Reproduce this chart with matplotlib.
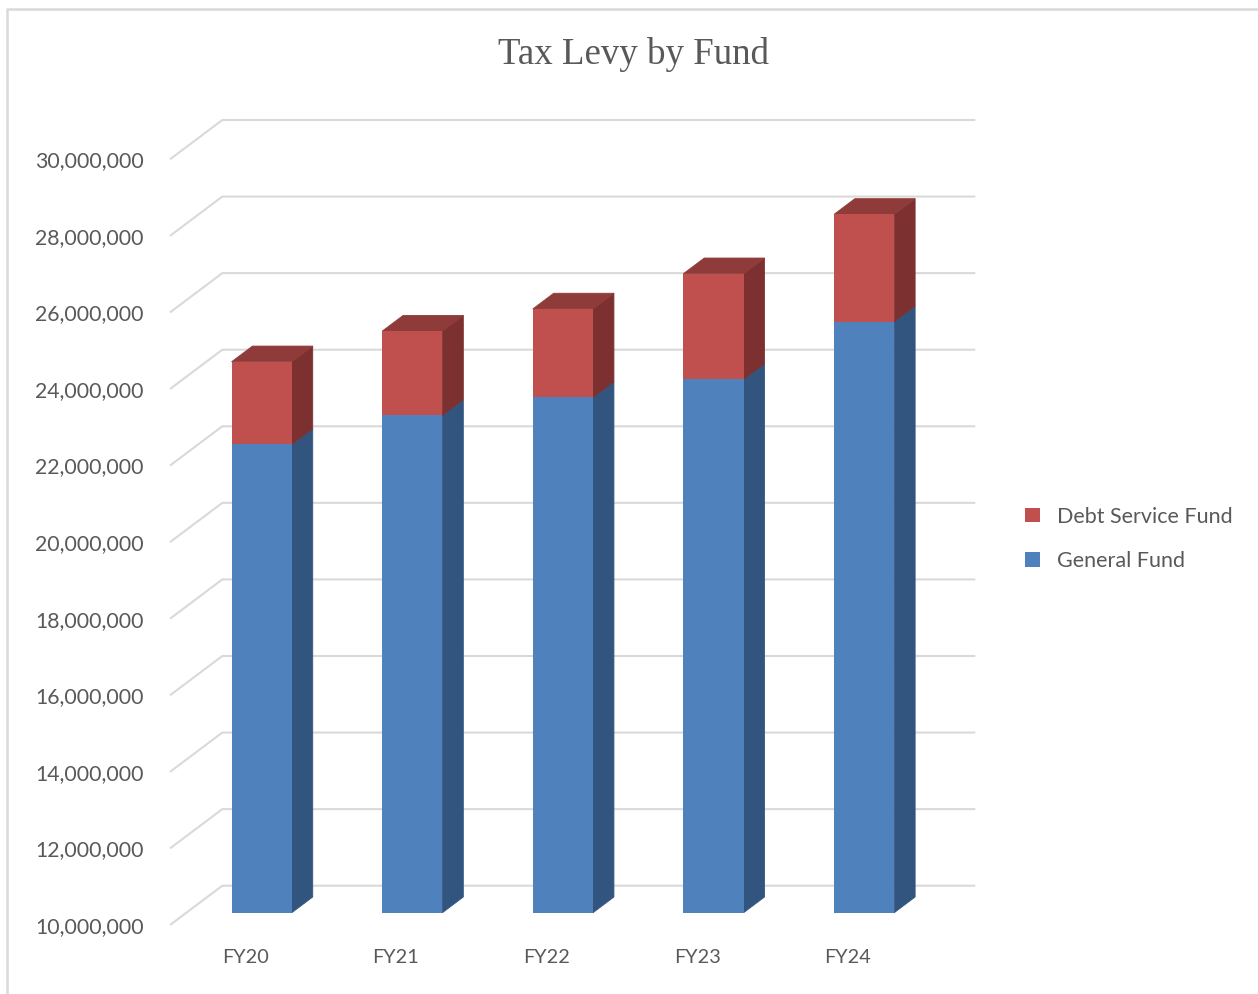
import numpy as np
import matplotlib
matplotlib.use("Agg")
import matplotlib.pyplot as plt
from matplotlib.patches import Polygon, Patch
from matplotlib.lines import Line2D

# datos
years = ["FY20", "FY21", "FY22", "FY23", "FY24"]
general_fund = [22_230_000, 22_990_000, 23_460_000, 23_930_000, 25_440_000]
debt_service = [2_160_000, 2_200_000, 2_310_000, 2_760_000, 2_800_000]
y_ticks = list(range(10_000_000, 30_000_001, 2_000_000))

blue = "#4f81bd"
blue_side = "#32557f"
red = "#c0504d"
red_side = "#7c3130"
red_top = "#8f3b39"
grid_col = "#d9d9d9"
text_col = "#595959"

W, H = 1258, 994
fig = plt.figure(figsize=(W / 100, H / 100), dpi=100)
fig.patch.set_facecolor("white")

# plano frontal de la caja 3D (en pixeles)
left, right, bottom, top = 170, 923, 925, 159.3
ax = fig.add_axes([left / W, 1 - bottom / H, (right - left) / W, (bottom - top) / H])
ax.set_xlim(-0.5, len(years) - 0.5)
ax.set_ylim(y_ticks[0], y_ticks[-1])
ax.set_facecolor("none")
for s in ax.spines.values():
    s.set_visible(False)

ymin = y_ticks[0]


def offset(px, py):
    # desplazamiento en pixeles -> desplazamiento en datos
    p0 = ax.transData.transform((0, ymin))
    d = ax.transData.inverted().transform(p0 + np.array([px, py]))
    return d[0], d[1] - ymin


# profundidad total de la caja, posicion y profundidad de las barras
Dx, Dy = offset(52.3, 39.3)
bx, by = offset(16.4, 12.3)
dx, dy = offset(20.9, 15.7)

# lineas de la pared del fondo
x0, x1 = -0.5, len(years) - 0.5
for v in y_ticks:
    ax.plot([x0, x0 + Dx, x1 + Dx], [v, v + Dy, v + Dy], color=grid_col,
            lw=1.5, clip_on=False, zorder=1, solid_capstyle="butt")

# barras apiladas con efecto 3D
w = 0.4
x = np.arange(len(years))
gen = np.array(general_fund)
tot = gen + np.array(debt_service)

for i in x:
    xr = i + w / 2 + bx
    xl = i - w / 2 + bx
    for y0, y1, side in [(ymin, gen[i], blue_side), (gen[i], tot[i], red_side)]:
        ax.add_patch(Polygon([(xr, y0 + by), (xr + dx, y0 + by + dy),
                              (xr + dx, y1 + by + dy), (xr, y1 + by)],
                             closed=True, facecolor=side, edgecolor=side,
                             lw=0.6, clip_on=False, zorder=3))
    ax.add_patch(Polygon([(xl, tot[i] + by), (xl + dx, tot[i] + by + dy),
                          (xr + dx, tot[i] + by + dy), (xr, tot[i] + by)],
                         closed=True, facecolor=red_top, edgecolor=red_top,
                         lw=0.6, clip_on=False, zorder=3))

ax.bar(x + bx, gen - ymin, bottom=ymin + by, width=w, color=blue,
       zorder=4, clip_on=False)
ax.bar(x + bx, tot - gen, bottom=gen + by, width=w, color=red,
       zorder=4, clip_on=False)

# ejes
ax.set_yticks(y_ticks)
ax.set_yticklabels([f"{v:,}" for v in y_ticks])
ax.set_xticks(x)
ax.set_xticklabels(years)
ax.tick_params(axis="y", length=0, pad=19, labelsize=15.3, labelcolor=text_col)
ax.tick_params(axis="x", length=0, pad=17, labelsize=14.3, labelcolor=text_col)
for lab in ax.get_yticklabels() + ax.get_xticklabels():
    lab.set_fontfamily("Lato")

fig.text(633 / W, 1 - 54 / H, "Tax Levy by Fund", ha="center", va="center",
         fontsize=26.6, family="Liberation Serif", color=text_col)

handles = [Patch(facecolor=red, label="Debt Service Fund"),
           Patch(facecolor=blue, label="General Fund")]
fig.legend(handles=handles, loc="center left",
           bbox_to_anchor=(1025 / W, 1 - 539 / H), frameon=False,
           borderpad=0, borderaxespad=0, handlelength=0.68, handleheight=0.68,
           handletextpad=0.8, labelspacing=1.15,
           prop={"family": "Lato", "size": 15.5}, labelcolor=text_col)

# marco del grafico
fig.add_artist(Line2D([7 / W, 7 / W, 1.0], [0.0, 1 - 9 / H, 1 - 9 / H],
                      transform=fig.transFigure, color=grid_col, lw=1.8))

fig.savefig("out.png", dpi=100)
